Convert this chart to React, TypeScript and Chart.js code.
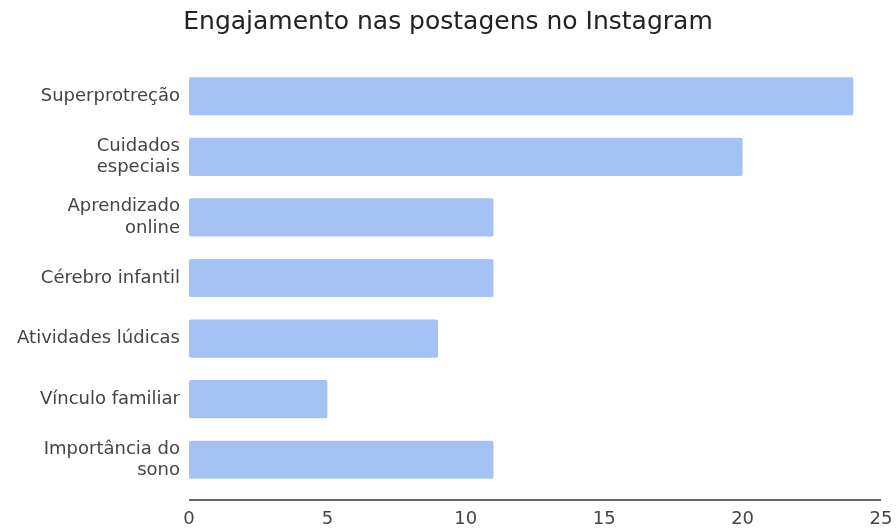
import React, { useEffect, useRef } from "react";
import { Chart, registerables } from "chart.js";

Chart.register(...registerables);

const categories: (string | string[])[] = [
  "Superprotreção",
  ["Cuidados", "especiais"],
  ["Aprendizado", "online"],
  "Cérebro infantil",
  "Atividades lúdicas",
  "Vínculo familiar",
  ["Importância do", "sono"],
];
const values = [24, 20, 11, 11, 9, 5, 11];
const xTicks = [0, 5, 10, 15, 20, 25];
const title = "Engajamento nas postagens no Instagram";

const axisLinePlugin = {
  id: "axisLine",
  afterDraw(chart: any) {
    const { ctx, chartArea } = chart;
    ctx.save();
    ctx.strokeStyle = "#666666";
    ctx.lineWidth = 2;
    ctx.beginPath();
    ctx.moveTo(chartArea.left, chartArea.bottom + 10);
    ctx.lineTo(chartArea.right, chartArea.bottom + 10);
    ctx.stroke();
    ctx.restore();
  },
};

export default function App() {
  const ref = useRef<HTMLCanvasElement | null>(null);
  useEffect(() => {
    document.body.style.margin = "0";
    const chart = new Chart(ref.current!, {
      type: "bar",
      data: {
        labels: categories,
        datasets: [
          {
            data: values,
            backgroundColor: "#a4c2f4",
            borderRadius: 2,
            borderSkipped: false,
            barPercentage: 0.63,
            categoryPercentage: 1,
          },
        ],
      },
      options: {
        indexAxis: "y",
        animation: false,
        responsive: false,
        layout: { padding: { left: 0, right: 0, top: 0, bottom: 0 } },
        plugins: {
          legend: { display: false },
          tooltip: { enabled: false },
          title: {
            display: true,
            text: title,
            color: "#222222",
            font: { family: "DejaVu Sans", size: 25, weight: "normal", lineHeight: 1.2 },
            padding: { top: 7, bottom: 29 },
          },
        },
        scales: {
          x: {
            min: 0,
            max: 25,
            afterBuildTicks: (scale: any) => {
              scale.ticks = xTicks.map((v) => ({ value: v }));
            },
            afterFit: (scale: any) => {
              scale.height = 38;
              scale.paddingRight = 15;
              scale.paddingLeft = 0;
            },
            grid: { display: false, drawTicks: false },
            border: { display: false },
            ticks: {
              color: "#444444",
              padding: 19,
              maxRotation: 0,
              font: { family: "DejaVu Sans", size: 18 },
            },
          },
          y: {
            afterFit: (scale: any) => {
              scale.width = 189;
            },
            grid: { display: false, drawTicks: false },
            border: { display: false },
            ticks: {
              color: "#444444",
              padding: 9,
              font: { family: "DejaVu Sans", size: 18, lineHeight: 1.2 },
            },
          },
        },
      },
      plugins: [axisLinePlugin],
    });
    return () => chart.destroy();
  }, []);
  return (
    <div style={{ width: 896, height: 528 }}>
      <canvas ref={ref} width={896} height={528} style={{ display: "block" }} />
    </div>
  );
}
